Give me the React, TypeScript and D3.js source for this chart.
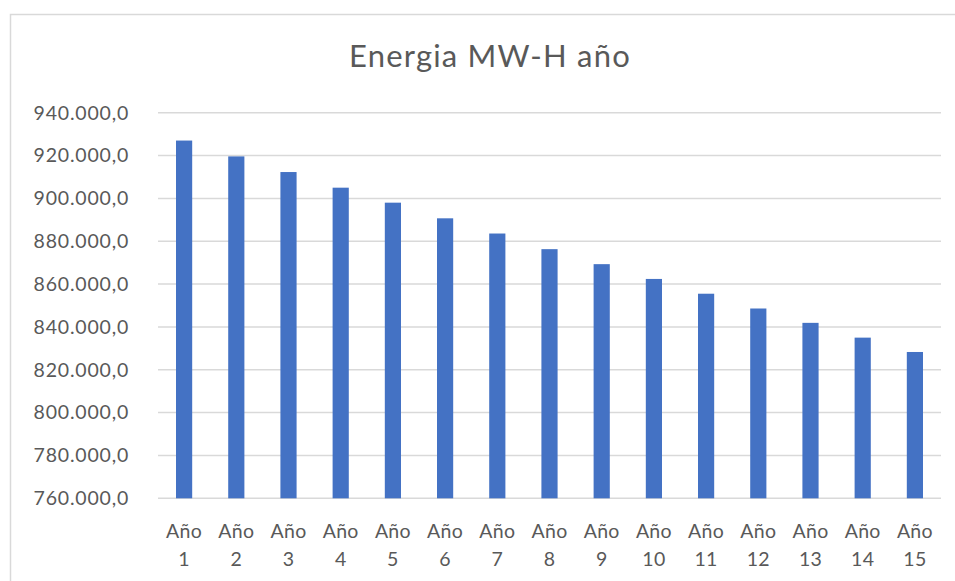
import React from "react";
import * as d3 from "d3";

const categories: string[] = [
  "Año 1", "Año 2", "Año 3", "Año 4", "Año 5", "Año 6", "Año 7", "Año 8",
  "Año 9", "Año 10", "Año 11", "Año 12", "Año 13", "Año 14", "Año 15",
];
const energia: number[] = [
  927000, 919600, 912300, 905000, 898000, 890700, 883600, 876300,
  869300, 862400, 855500, 848600, 841900, 835000, 828300,
];
const yTicks: number[] = [760000, 780000, 800000, 820000, 840000, 860000, 880000, 900000, 920000, 940000];
const title = "Energia MW-H año";

const W = 955;
const H = 581;
const plot = { left: 158, right: 941, top: 112.7, bottom: 498.3 };
const FONT = "Lato, 'Open Sans', sans-serif";
const TEXT = "#595959";

const fmt = d3
  .formatLocale({ decimal: ",", thousands: ".", grouping: [3], currency: ["", ""] })
  .format(",.1f");

export default function App() {
  const x = d3
    .scaleBand<string>()
    .domain(categories)
    .range([plot.left, plot.right])
    .paddingInner(0.69)
    .paddingOuter(0.345);
  const y = d3.scaleLinear().domain([760000, 940000]).range([plot.bottom, plot.top]);

  return (
    <div style={{ position: "fixed", left: 0, top: 0 }}>
      <svg width={W} height={H} style={{ display: "block", background: "#fff" }}>
        <rect x={10.5} y={14.5} width={W + 20} height={H + 20} fill="#fff" stroke="#D9D9D9" strokeWidth={1.5} />
        <text x={490} y={67} textAnchor="middle" fill={TEXT} fontFamily={FONT} fontSize={31} letterSpacing={1.2}>
          {title}
        </text>
        {yTicks.map((t) => (
          <g key={t}>
            <line x1={plot.left} x2={plot.right} y1={y(t)} y2={y(t)} stroke="#D9D9D9" strokeWidth={1.5} />
            <text x={129} y={y(t)} dy="0.35em" textAnchor="end" fill={TEXT} fontFamily={FONT} fontSize={19.5} letterSpacing={0.8}>
              {fmt(t)}
            </text>
          </g>
        ))}
        {categories.map((c, i) => (
          <rect
            key={c}
            x={x(c)}
            y={y(energia[i])}
            width={x.bandwidth()}
            height={y(760000) - y(energia[i])}
            fill="#4472C4"
          />
        ))}
        {categories.map((c) => {
          const [a, b] = c.split(" ");
          const cx = (x(c) as number) + x.bandwidth() / 2;
          return (
            <text key={c} textAnchor="middle" fill={TEXT} fontFamily={FONT} fontSize={19.5} letterSpacing={0.3}>
              <tspan x={cx} y={538}>{a}</tspan>
              <tspan x={cx} y={566}>{b}</tspan>
            </text>
          );
        })}
      </svg>
    </div>
  );
}
